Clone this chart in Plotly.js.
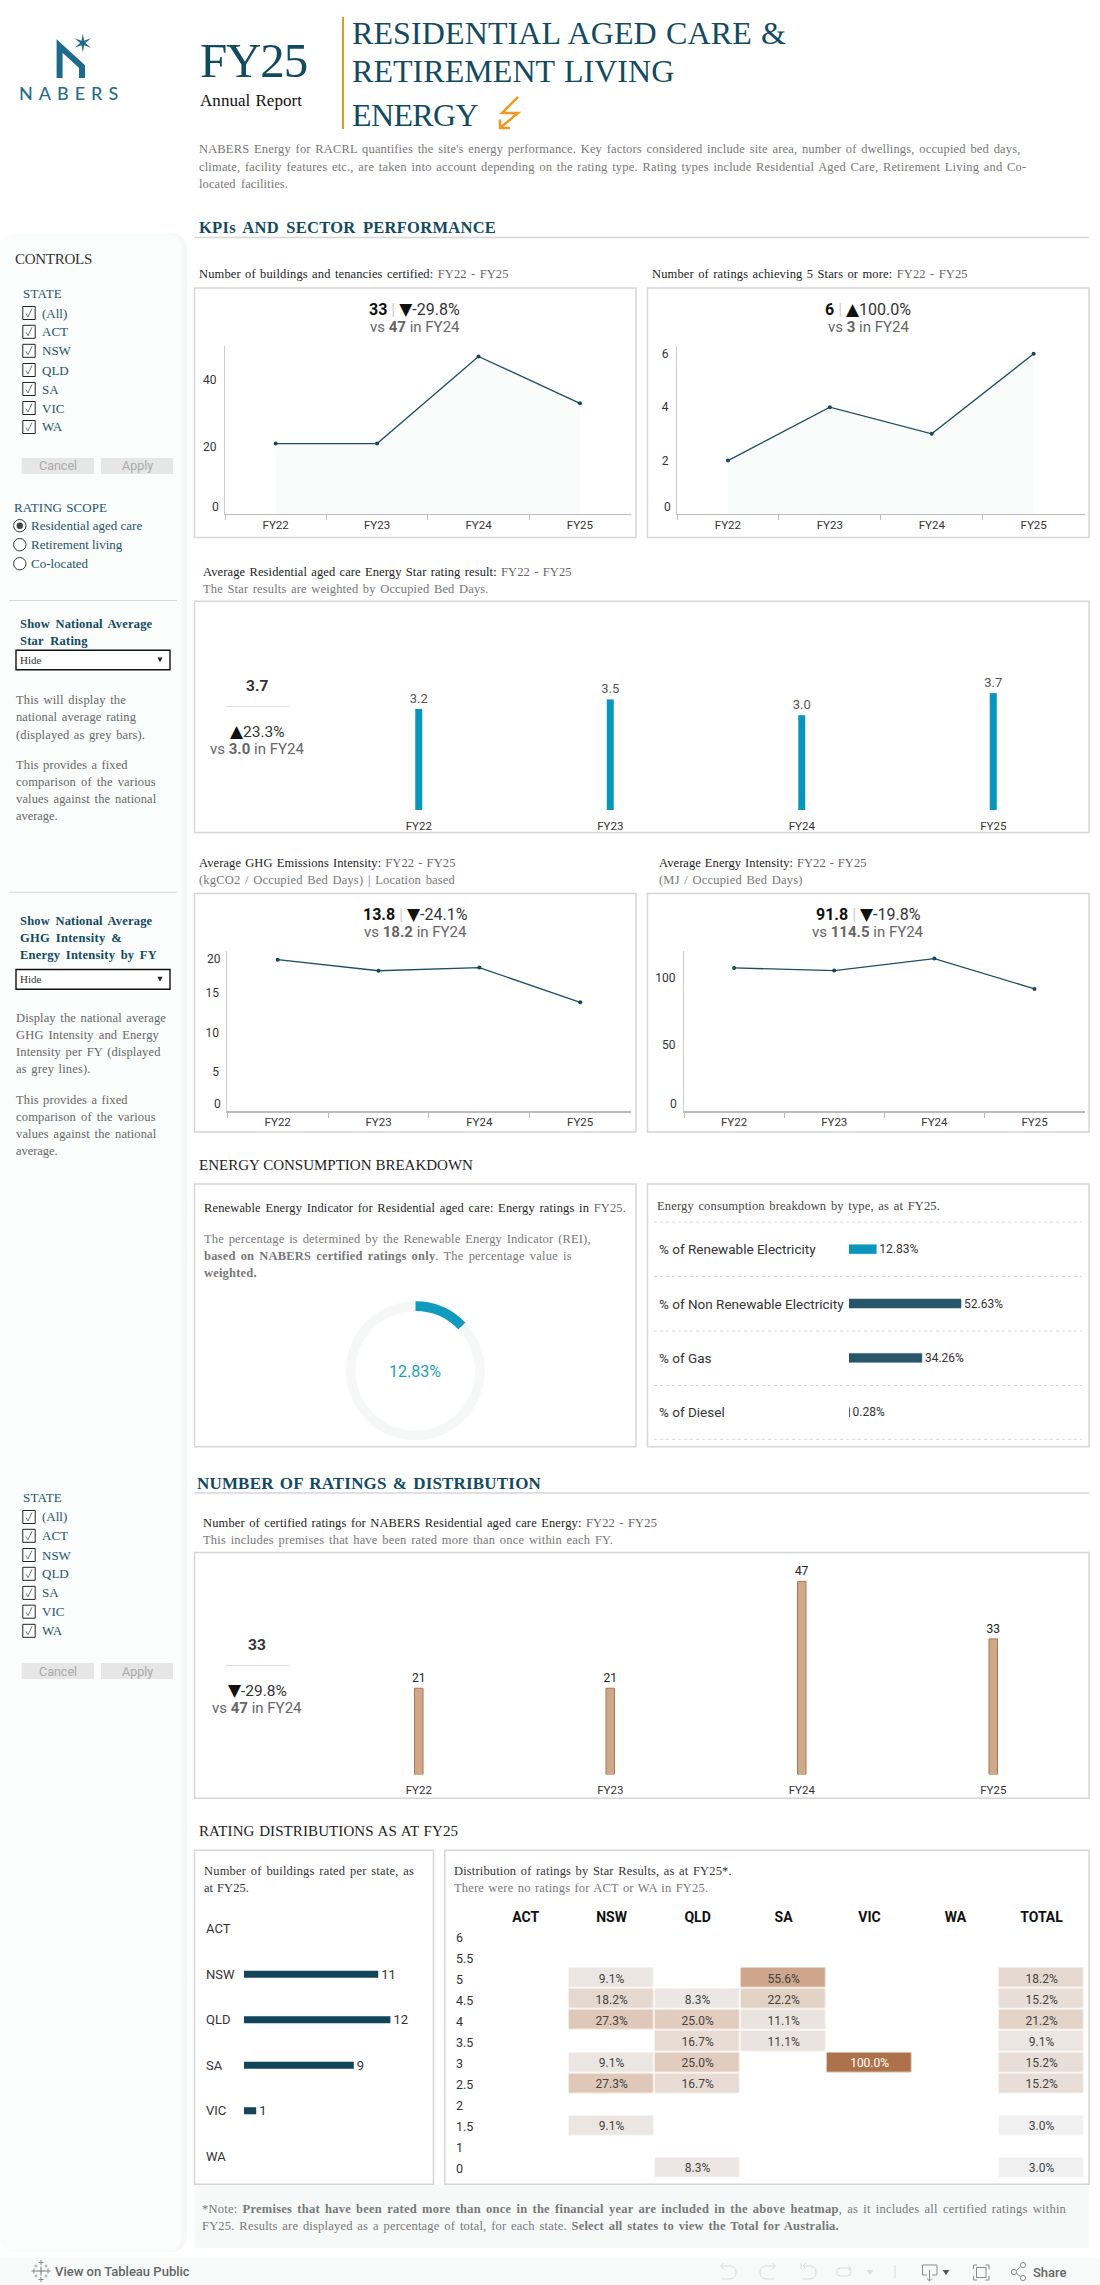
<!DOCTYPE html>
<html><head><meta charset="utf-8">
<script src="https://cdn.plot.ly/plotly-3.0.1.min.js"></script>
<style>html,body{margin:0;padding:0;background:#fff}#c{width:1100px;height:2285px}</style></head>
<body><div id="c"></div>
<script>
// ---------- data ----------
const fiscalYears=['FY22','FY23','FY24','FY25'];
const buildingsCertified=[21,21,47,33];
const fiveStarRatings=[2,4,3,6];
const avgStarRating=[3.2,3.5,3.0,3.7];
const ghgIntensity=[19.2,17.8,18.2,13.8];
const energyIntensity=[107.5,105.5,114.5,91.8];
const renewableShare=[12.83,87.17];
const energyTypes=['% of Renewable Electricity','% of Non Renewable Electricity','% of Gas','% of Diesel'];
const energyShares=[12.83,52.63,34.26,0.28];
const certifiedRatings=[21,21,47,33];
const states=['ACT','NSW','QLD','SA','VIC','WA'];
const buildingsPerState=[null,11,12,9,1,null];
const heatColumns=['ACT','NSW','QLD','SA','VIC','WA','TOTAL'];
const starBands=['6','5.5','5','4.5','4','3.5','3','2.5','2','1.5','1','0'];
const heatRows=[
 [null,null,null,null,null,null,null],
 [null,null,null,null,null,null,null],
 [null,9.1,null,55.6,null,null,18.2],
 [null,18.2,8.3,22.2,null,null,15.2],
 [null,27.3,25.0,11.1,null,null,21.2],
 [null,null,16.7,11.1,null,null,9.1],
 [null,9.1,25.0,null,100.0,null,15.2],
 [null,27.3,16.7,null,null,null,15.2],
 [null,null,null,null,null,null,null],
 [null,9.1,null,null,null,null,3.0],
 [null,null,null,null,null,null,null],
 [null,null,8.3,null,null,null,3.0]];
const stateFilter=['(All)','ACT','NSW','QLD','SA','VIC','WA'];
const ratingScope=['Residential aged care','Retirement living','Co-located'];

// ---------- helpers ----------
const W=1100,H=2285,SERIF='Liberation Serif',SANS='Roboto';
const fx=x=>x/W, fy=y=>1-y/H;
const teal='#124a5f', tealSoft='#1d5569', grey='#777', ink='#222', lineC='#d6d6d6';
const cv=document.createElement('canvas').getContext('2d');
function natural(s,size,font){
  let total=0;
  s.split(/(<b>.*?<\/b>)/).forEach(seg=>{
    const bold=seg.startsWith('<b>');
    const t=seg.replace(/<[^>]+>/g,'');
    cv.font=(bold?'bold ':'')+size+'px "'+font+'"';
    total+=cv.measureText(t).width;
  });
  return total;
}
const ann=[],shapes=[];
function T(s,x,y,o={}){
  const size=o.size||12.5,font=o.font||SERIF,color=o.color||ink;
  let html=s.replace(/<g>/g,'<span style="color:'+(o.g||'#666')+'">').replace(/<\/g>/g,'</span>');
  if(o.w){
    const plain=s.replace(/<[^>]+>/g,'');
    const extra=o.w-natural(s,size,font);
    const gaps=(plain.match(/ /g)||[]).length;
    const ls=gaps?extra*0.45/plain.length:extra/plain.length;
    const ws=gaps?extra*0.55/gaps:0;
    html='<span style="letter-spacing:'+ls.toFixed(3)+'px;word-spacing:'+ws.toFixed(3)+'px">'+html+'</span>';
  }
  ann.push({text:html,xref:'paper',yref:o.yref||'paper',x:fx(x),y:o.yref?o.yv:fy(y),
    xanchor:o.a||'left',yanchor:'middle',showarrow:false,borderpad:0,borderwidth:0,yshift:o.ys||0,
    font:{family:font,size:size,color:color,weight:o.weight||400}});
}
function R(x0,y0,x1,y1,o={}){
  shapes.push({type:'rect',xref:'paper',yref:'paper',x0:fx(x0),x1:fx(x1),y0:fy(y0),y1:fy(y1),
    line:{color:o.line||'rgba(0,0,0,0)',width:o.lw===undefined?1:o.lw},fillcolor:o.fill||'rgba(0,0,0,0)',layer:'below'});
}
function L(x0,y0,x1,y1,c,w,dash){
  shapes.push({type:'line',xref:'paper',yref:'paper',x0:fx(x0),x1:fx(x1),y0:fy(y0),y1:fy(y1),
    line:{color:c,width:w||1,dash:dash||'solid'},layer:'below'});
}
function C(cx,cy,r,o={}){
  shapes.push({type:'circle',xref:'paper',yref:'paper',x0:fx(cx-r),x1:fx(cx+r),y0:fy(cy-r),y1:fy(cy+r),
    line:{color:o.line||'rgba(0,0,0,0)',width:o.lw===undefined?1:o.lw},fillcolor:o.fill||'rgba(0,0,0,0)',layer:'below'});
}
// path written in page pixels: "M x y L x y Q a b x y ..."
function P(d,o={}){
  const out=d.trim().split(/\s+/);let isX=true;
  const mapped=out.map(t=>{
    if(/^[A-Za-z]$/.test(t)){isX=true;return t;}
    const v=parseFloat(t);const r=isX?fx(v):fy(v);isX=!isX;return r.toFixed(6);
  }).join(' ');
  shapes.push({type:'path',xref:'paper',yref:'paper',path:mapped,
    line:{color:o.line||'rgba(0,0,0,0)',width:o.lw===undefined?1:o.lw},fillcolor:o.fill||'rgba(0,0,0,0)',layer:'below'});
}
function roundedSide(x1,y0,y1,r,fill){
  P(`M 0 ${y0+r} Q 0 ${y0} ${r} ${y0} L ${x1-r} ${y0} Q ${x1} ${y0} ${x1} ${y0+r} L ${x1} ${y1-r} Q ${x1} ${y1} ${x1-r} ${y1} L ${r} ${y1} Q 0 ${y1} 0 ${y1-r} Z`,{fill});
}
function panel(x0,y0,x1,y1){R(x0,y0,x1,y1,{line:lineC,lw:1.5});}

// ---------- page furniture ----------
roundedSide(187,233,2252,18,'#f6f7f7');
roundedSide(182,233,2252,18,'#fbfcfc');
R(0,2258,1100,2285,{fill:'#f8f9f9'});
R(194.5,2185,1089,2248,{fill:'#f7f9f9'});

// logo
P('M 59.6 78 L 59.6 46 L 82 66.5 L 82 78',{line:'#1d6a8a',lw:6});
(function(){let d='';const cx=82.8,cy=43;
  for(let i=0;i<12;i++){const r=i%2?2.6:9.5,a=Math.PI*i/6-Math.PI/2;
    d+=(i?'L ':'M ')+(cx+r*Math.cos(a)).toFixed(2)+' '+(cy+r*Math.sin(a)).toFixed(2)+' ';}
  P(d+'Z',{fill:'#1d6a8a'});})();
T('NABERS',19,92.5,{font:'Lato',size:18,color:'#1f6f8f',w:105,weight:500});

T('FY25',200,61,{size:49,color:teal,w:107});
T('Annual Report',200,100,{size:17,color:'#111',w:102});
L(343,17,343,129,'#e8961e',2);
T('RESIDENTIAL AGED CARE &',352,33,{size:32,color:teal,w:437});
T('RETIREMENT LIVING',352,70.7,{size:32,color:teal,w:323});
T('ENERGY',352,115,{size:32,color:teal,w:126});
P('M 518 97 L 502 113 L 518 113 L 500 128 M 500 119.5 L 500 128 L 510 128',{line:'#f09a24',lw:2.5});

const intro=[['NABERS Energy for RACRL quantifies the site\'s energy performance. Key factors considered include site area, number of dwellings, occupied bed days,',149.5,822],
 ['climate, facility features etc., are taken into account depending on the rating type. Rating types include Residential Aged Care, Retirement Living and Co-',167,828],
 ['located facilities.',184,89]];
intro.forEach(l=>T(l[0],199,l[1],{color:grey,w:l[2]}));

T('<b>KPIs AND SECTOR PERFORMANCE</b>',199,227.5,{size:16.5,color:teal,w:298});
L(194.5,237.5,1089,237.5,lineC,1.5);

// sidebar
T('CONTROLS',15,259,{size:15,color:'#333',w:77});
function stateBlock(titleY,ys,btnTop,btnBottom){
  T('STATE',22.5,titleY,{size:13,color:tealSoft,w:39});
  stateFilter.forEach((s,i)=>{
    const y=ys[i];
    shapes.push({type:'rect',xref:'paper',yref:'paper',x0:fx(22.8),x1:fx(35.2),y0:fy(y-6.5),y1:fy(y+6.5),line:{color:'#222',width:1},fillcolor:'#fff',layer:'below'});
    P(`M 26 ${y+0.5} L 28 ${y+4} L 32 ${y-4.5}`,{line:'#666',lw:0.9});
    T(s,42,y,{size:13,color:tealSoft});
  });
  R(21.7,btnTop,94,btnBottom,{fill:'#e6e6e6'});
  R(101,btnTop,173,btnBottom,{fill:'#e6e6e6'});
  T('Cancel',58,(btnTop+btnBottom)/2,{font:SANS,size:12.5,color:'#aaa',a:'center'});
  T('Apply',137,(btnTop+btnBottom)/2,{font:SANS,size:12.5,color:'#aaa',a:'center'});
}
stateBlock(293.5,[313,331.8,350.8,370,389,408,427],458,474);
stateBlock(1497.8,[1517,1535.8,1555,1573.8,1592.9,1611.7,1630.8],1663,1679);
T('RATING SCOPE',13.5,507,{size:13,color:tealSoft,w:93});
ratingScope.forEach((s,i)=>{
  const y=[525.7,544.7,563.7][i];
  C(19.8,y,6.2,{line:'#333',lw:1,fill:'#fff'});
  if(i===0)C(19.8,y,3.2,{fill:'#444'});
  T(s,31,y,{size:13,color:tealSoft});
});
L(9,600.5,177,600.5,'#d9d9d9',1);
L(9,892.3,177,892.3,'#d9d9d9',1);
function dropdown(y0,y1){
  R(16,y0,170,y1,{line:'#111',lw:1.4,fill:'#fff'});
  T('Hide',20,(y0+y1)/2,{size:11,color:'#333'});
  const m=(y0+y1)/2;P(`M 157.5 ${m-2.5} L 162.5 ${m-2.5} L 160 ${m+2.5} Z`,{fill:'#222'});
}
T('<b>Show National Average</b>',20.3,623.8,{color:teal,w:133});
T('<b>Star Rating</b>',20.3,641,{color:teal,w:68});
dropdown(650.3,669.7);
[['This will display the',700,110],['national average rating',717.5,120],['(displayed as grey bars).',734.5,129],
 ['This provides a fixed',765,111.7],['comparison of the various',782,139.7],['values against the national',799,140.4],['average.',816.4,41.5]]
 .forEach(l=>T(l[0],16,l[1],{color:'#666',w:l[2]}));
T('<b>Show National Average</b>',20.3,920.8,{color:teal,w:133});
T('<b>GHG Intensity &</b>',20.3,937.8,{color:teal,w:102});
T('<b>Energy Intensity by FY</b>',20.3,954.8,{color:teal,w:137});
dropdown(969.5,989.2);
[['Display the national average',1018,150],['GHG Intensity and Energy',1035,143],['Intensity per FY (displayed',1051.7,145],['as grey lines).',1069,74.5],
 ['This provides a fixed',1100,111.7],['comparison of the various',1117,139.7],['values against the national',1134,140.4],['average.',1151,41.5]]
 .forEach(l=>T(l[0],16,l[1],{color:'#666',w:l[2]}));

// panels and headings
panel(194.5,288,636,537.5); panel(647.5,288,1089,537.5);
panel(194.5,601.3,1089,832.6);
panel(194.5,893.5,636,1132); panel(647.5,893.5,1089,1132);
panel(194.5,1184,636,1446.7); panel(647.5,1184,1089,1446.7);
panel(194.5,1552.4,1089,1798.3);
panel(194.5,1850.3,433.5,2184.3); panel(444.8,1850.3,1089,2184.3);

T('Number of buildings and tenancies certified: <g>FY22 - FY25</g>',199,274,{w:309.6});
T('Number of ratings achieving 5 Stars or more: <g>FY22 - FY25</g>',651.7,274,{w:315.7});
T('Average Residential aged care Energy Star rating result: <g>FY22 - FY25</g>',203.4,572,{w:368.6});
T('The Star results are weighted by Occupied Bed Days.',203.4,589,{color:grey,w:285.6});
T('Average GHG Emissions Intensity: <g>FY22 - FY25</g>',198.5,863,{w:256.5});
T('(kgCO2 / Occupied Bed Days) | Location based',198.5,880,{color:grey,w:256});
T('Average Energy Intensity: <g>FY22 - FY25</g>',659.4,863,{w:207.6});
T('(MJ / Occupied Bed Days)',659.4,880,{color:grey,w:143.6});
T('ENERGY CONSUMPTION BREAKDOWN',198.5,1165,{size:15,color:'#222',w:274.5});
T('Renewable Energy Indicator for Residential aged care: Energy ratings in <g>FY25.</g>',204,1208,{w:422});
T('The percentage is determined by the Renewable Energy Indicator (REI),',204,1239,{color:grey,w:386.7});
T('<b>based on NABERS certified ratings only</b>. The percentage value is',204,1256,{color:grey,w:368});
T('<b>weighted.</b>',204,1273,{color:grey,w:52.7});
T('Energy consumption breakdown by type, as at FY25.',657,1206,{color:'#444',w:283});
T('<b>NUMBER OF RATINGS & DISTRIBUTION</b>',197,1483.5,{size:17,color:teal,w:344.6});
L(194.5,1493,1089,1493,lineC,1.5);
T('Number of certified ratings for NABERS Residential aged care Energy: <g>FY22 - FY25</g>',203,1523,{w:454});
T('This includes premises that have been rated more than once within each FY.',203,1540,{color:grey,w:410});
T('RATING DISTRIBUTIONS AS AT FY25',199,1831,{size:15,color:'#222',w:261});
T('Number of buildings rated per state, as',204,1871,{color:'#333',w:210});
T('at FY25.',204,1888,{color:'#333',w:45});
T('Distribution of ratings by Star Results, as at FY25*.',454,1871,{color:'#333',w:277.7});
T('There were no ratings for ACT or WA in FY25.',454,1888,{color:grey,w:256});
T('*Note: <b>Premises that have been rated more than once in the financial year are included in the above heatmap</b>, as it includes all certified ratings within',202,2209,{color:grey,w:864.3});
T('FY25. Results are displayed as a percentage of total, for each state. <b>Select all states to view the Total for Australia.</b>',202,2226,{color:grey,w:638});

// KPI texts
const tri=s=>s.replace(/([▼▲])/,'<span style="font-family:DejaVu Sans;font-size:17px;color:#111">$1</span>');
function kpi(cx,y1,y2,a,b,c,d){
  T(`<b>${a}</b><span style="color:#ccc"> | </span><span style="color:#333">${tri(b)}</span>`,cx,y1,{font:SANS,size:16,color:'#111',a:'center'});
  T(`vs <b>${c}</b> in ${d}`,cx,y2,{font:SANS,size:15,color:'#666',a:'center'});
}
kpi(414.6,308.6,327,'33','▼-29.8%','47','FY24');
kpi(868,308.6,327,'6','▲100.0%','3','FY24');
kpi(415,913.7,932,'13.8','▼-24.1%','18.2','FY24');
kpi(868,913.7,932,'91.8','▼-19.8%','114.5','FY24');
function kpi2(y1,ys,y2,y3,a,b,c){
  T(`<b>${a}</b>`,257,y1,{font:SANS,size:15.5,color:'#333',a:'center'});
  L(226,ys,289,ys,'#ddd',1);
  T(tri(b),257,y2,{font:SANS,size:15.5,color:'#333',a:'center'});
  T(`vs <b>${c}</b> in FY24`,257,y3,{font:SANS,size:15,color:'#666',a:'center'});
}
kpi2(685.5,706.5,731,749,'3.7','▲23.3%','3.0');
kpi2(1644.7,1665.5,1689.6,1708,'33','▼-29.8%','47');
T('12.83%',415.3,1371.6,{font:SANS,size:16,color:'#1a9fc0',a:'center'});

// dotted separators
[1222,1276.5,1331,1385.5,1439.4].forEach(y=>L(654,y,1082,y,'#cfcfcf',0.8,'dot'));

// toolbar
T('View on Tableau Public',55,2271.5,{font:SANS,size:13,color:'#666',w:134,weight:500});
(function(){const cross=(x,y,r,c,w)=>{L(x-r,y,x+r,y,c,w);L(x,y-r,x,y+r,c,w);};
  cross(41,2271,4.5,'#777',1);cross(41,2262.5,2.5,'#888',1);cross(41,2279.5,2.5,'#888',1);
  cross(34,2271,2.5,'#888',1);cross(48,2271,2.5,'#888',1);
  cross(36,2266,1.5,'#999',.8);cross(46,2266,1.5,'#999',.8);cross(36,2276,1.5,'#999',.8);cross(46,2276,1.5,'#999',.8);})();
const ic='#dcdcdc',id='#8a8a8a';
P('M 721 2266 L 729 2266 Q 736 2266 736 2272 Q 736 2279 729 2279 L 722 2279 M 724 2263 L 720.5 2266 L 724 2269',{line:ic,lw:1});
P('M 775 2266 L 767 2266 Q 760 2266 760 2272 Q 760 2279 767 2279 L 774 2279 M 772 2263 L 775.5 2266 L 772 2269',{line:ic,lw:1});
P('M 801 2263 L 801 2269 M 803 2266 L 809 2266 Q 816 2266 816 2272 Q 816 2279 809 2279 L 803 2279 M 806 2263 L 803 2266 L 806 2269',{line:ic,lw:1});
P('M 850 2268 L 841 2268 Q 836.5 2268 836.5 2272 Q 836.5 2276 841 2276 L 847 2276 Q 851 2276 851 2272 Q 851 2270 850 2268 M 848 2265.5 L 850.5 2268 L 848 2270',{line:ic,lw:1});
P('M 866.5 2270 L 873.5 2270 L 870 2275 Z',{fill:ic});
L(895,2265,895,2278,ic,1);
P('M 927 2275 L 922.5 2275 L 922.5 2265 L 937 2265 L 937 2275 L 932 2275 M 929.5 2270 L 929.5 2281 M 927 2278.5 L 929.5 2281 L 932 2278.5',{line:id,lw:1});
P('M 942.5 2270 L 949.5 2270 L 946 2275 Z',{fill:'#555'});
P('M 977 2265 L 973.5 2265 L 973.5 2269 M 985.5 2265 L 989 2265 L 989 2269 M 977 2280 L 973.5 2280 L 973.5 2276 M 985.5 2280 L 989 2280 L 989 2276',{line:id,lw:1});
R(976.5,2267.5,986,2277.5,{line:id,lw:1});
C(1014,2272,2.6,{line:id});C(1023,2265,2.6,{line:id});C(1023,2278,2.6,{line:id});
L(1016.3,2270.7,1020.7,2266.4,id,1);L(1016.3,2273.3,1020.7,2276.6,id,1);
T('Share',1033,2272,{font:SANS,size:13,color:'#666',w:33,weight:500});

// ---------- axes ----------
const layout={width:W,height:H,margin:{l:0,r:0,t:0,b:0},paper_bgcolor:'#fff',plot_bgcolor:'rgba(0,0,0,0)',
  showlegend:false,annotations:ann,shapes:shapes,font:{family:SANS,color:'#333'},hovermode:false};
function xStyle(n,a,b,band,anchor){
  layout['xaxis'+n]={domain:[fx(a),fx(b)],type:'category',categoryorder:'array',categoryarray:fiscalYears,anchor:'y'+n,
    range:[-0.5,3.499],showgrid:false,zeroline:false,fixedrange:true,tickfont:{family:SANS,size:11.5,color:'#333'},
    ...(band?{tickson:'boundaries',ticks:'outside',ticklen:5,tickwidth:1,tickcolor:'#bbb',showline:true,linecolor:'#bbb',linewidth:1.2}
            :{ticks:'outside',ticklen:5,tickcolor:'rgba(0,0,0,0)',showline:false})};
}
function yStyle(n,top,bottom,max,vals,line){
  layout['yaxis'+n]={domain:[fy(bottom),fy(top)],range:[0,max],anchor:'x'+n,showgrid:false,zeroline:false,fixedrange:true,
    tickmode:'array',tickvals:vals,ticks:vals.length?'outside':'',ticklen:5,tickcolor:'rgba(0,0,0,0)',
    showticklabels:vals.length>0,tickfont:{family:SANS,size:12,color:'#333'},
    showline:!!line,linecolor:'#ccc',linewidth:1};
}
xStyle('',225,630.5,true); yStyle('',346,514,50.1,[20,40],true);
xStyle(2,677,1084.5,true); yStyle(2,346,514,6.29,[2,4,6],true);
xStyle(3,323,1089,false); yStyle(3,610,810,6.33,[]);
xStyle(4,227.3,630.5,true); yStyle(4,951,1111.4,20.3,[5,10,15],true);
xStyle(5,684,1084.5,true); yStyle(5,951,1111.4,120.2,[50,100],true);
xStyle(7,323,1089,false); yStyle(7,1560,1774.5,52.2,[]);
layout.xaxis3.range=[-0.5,3.5];layout.xaxis7.range=[-0.5,3.5];
layout.yaxis.tickvals=[20,40];
function axisZero(yref,lx,v,txt,ys){T(txt,lx,0,{font:SANS,size:12,color:'#333',a:'right',yref:yref,yv:v,ys:ys});}
axisZero('y',218.5,0,'0',7);
axisZero('y2',671,0,'0',7);
axisZero('y4',221,0,'0',7);
axisZero('y4',221,20,'20',-6);
axisZero('y5',677,0,'0',7);

const starBandsUp=starBands.slice().reverse(), heatRowsUp=heatRows.slice().reverse();
const heatLabelsUp=heatRowsUp.map(r=>r.map(v=>v===null?'':v.toFixed(1)+'%'));
layout.xaxis6={domain:[fx(849),fx(1082)],range:[0,109.5],anchor:'y6',visible:false,fixedrange:true};
layout.yaxis6={domain:[fy(1439.4),fy(1222)],type:'category',categoryorder:'array',categoryarray:energyTypes.slice().reverse(),anchor:'x6',visible:false,fixedrange:true};
layout.xaxis8={domain:[fx(244),fx(428)],range:[0,15.08],anchor:'y8',visible:false,fixedrange:true};
layout.yaxis8={domain:[fy(2179),fy(1906)],type:'category',categoryorder:'array',categoryarray:states.slice().reverse(),anchor:'x8',visible:false,fixedrange:true};
layout.xaxis9={domain:[fx(482.6),fx(1084.5)],type:'category',categoryorder:'array',categoryarray:heatColumns,anchor:'y9',side:'top',
  showgrid:false,zeroline:false,showline:false,ticks:'',fixedrange:true,tickfont:{family:SANS,size:14,color:'#111',weight:700}};
layout.yaxis9={domain:[fy(2178.5),fy(1925.5)],type:'category',categoryorder:'array',categoryarray:starBandsUp,anchor:'x9',
  showgrid:false,zeroline:false,showline:false,showticklabels:false,ticks:'',fixedrange:true};

energyTypes.forEach(t=>T(t,659,0,{font:SANS,size:13.5,color:'#333',yref:'y6',yv:t,ys:0}));
states.forEach(s=>T(s,206,0,{font:SANS,size:13,color:'#333',yref:'y8',yv:s,ys:0}));
starBandsUp.forEach((s,i)=>T(s,456,0,{font:SANS,size:12.5,color:'#333',yref:'y9',yv:i,ys:-1}));

// ---------- traces ----------
const lineStyle={color:'#1c4f63',width:1.3},mk={color:'#14485c',size:4};
function lineTrace(n,y,fill){return {type:'scatter',mode:'lines+markers',x:fiscalYears,y:y,xaxis:'x'+n,yaxis:'y'+n,
  line:lineStyle,marker:mk,cliponaxis:false,hoverinfo:'skip',
  ...(fill?{fill:'tozeroy',fillcolor:'#fafbfb'}:{})};}
const traces=[
  lineTrace('',buildingsCertified,true),
  lineTrace(2,fiveStarRatings,true),
  {type:'bar',x:fiscalYears,y:avgStarRating,xaxis:'x3',yaxis:'y3',width:0.0366,marker:{color:'#0a96ba'},
    texttemplate:'%{y:.1f}',textposition:'outside',constraintext:'none',cliponaxis:false,textfont:{family:SANS,size:13,color:'#555'},hoverinfo:'skip'},
  lineTrace(4,ghgIntensity,false),
  lineTrace(5,energyIntensity,false),
  {type:'pie',values:renewableShare,sort:false,direction:'clockwise',rotation:0,hole:0.86,textinfo:'none',
    marker:{colors:['#0e9bbd','#f6f7f7'],line:{width:0}},domain:{x:[fx(345.8),fx(484.8)],y:[fy(1440.3),fy(1301.3)]},hoverinfo:'skip'},
  {type:'bar',orientation:'h',y:energyTypes,x:energyShares,xaxis:'x6',yaxis:'y6',width:0.165,
    marker:{color:['#0a96ba','#27566a','#27566a','#27566a'],line:{color:['#0a96ba','#27566a','#27566a','#27566a'],width:0.5}},
    texttemplate:'%{x:.2f}%',textposition:'outside',constraintext:'none',cliponaxis:false,textfont:{family:SANS,size:12,color:'#333'},hoverinfo:'skip'},
  {type:'bar',x:fiscalYears,y:certifiedRatings,xaxis:'x7',yaxis:'y7',width:0.0445,
    marker:{color:'#cfa88c',line:{color:'#b0734a',width:1}},
    texttemplate:'%{y}',textposition:'outside',constraintext:'none',cliponaxis:false,textfont:{family:SANS,size:12,color:'#222'},hoverinfo:'skip'},
  {type:'bar',orientation:'h',y:states,x:buildingsPerState,xaxis:'x8',yaxis:'y8',width:0.155,marker:{color:'#12445a'},
    texttemplate:'%{x}',textposition:'outside',constraintext:'none',cliponaxis:false,textfont:{family:SANS,size:13,color:'#333'},hoverinfo:'skip'},
  {type:'heatmap',x:heatColumns,y:starBandsUp,z:heatRowsUp,text:heatLabelsUp,xaxis:'x9',yaxis:'y9',xgap:1.5,ygap:1.5,showscale:false,zmin:0,zmax:100,
    colorscale:[[0,'#f2f2f2'],[0.03,'#f0f0f0'],[0.09,'#ece6e2'],[0.15,'#e8ddd8'],[0.2,'#e4d6ca'],[0.273,'#dfc8b8'],[0.556,'#cda68b'],[1,'#ad7249']],
    texttemplate:'%{text}',textfont:{family:SANS,size:12},hoverinfo:'skip'}
];
Plotly.newPlot('c',traces,layout,{staticPlot:true,displayModeBar:false,responsive:false});
</script></body></html>
